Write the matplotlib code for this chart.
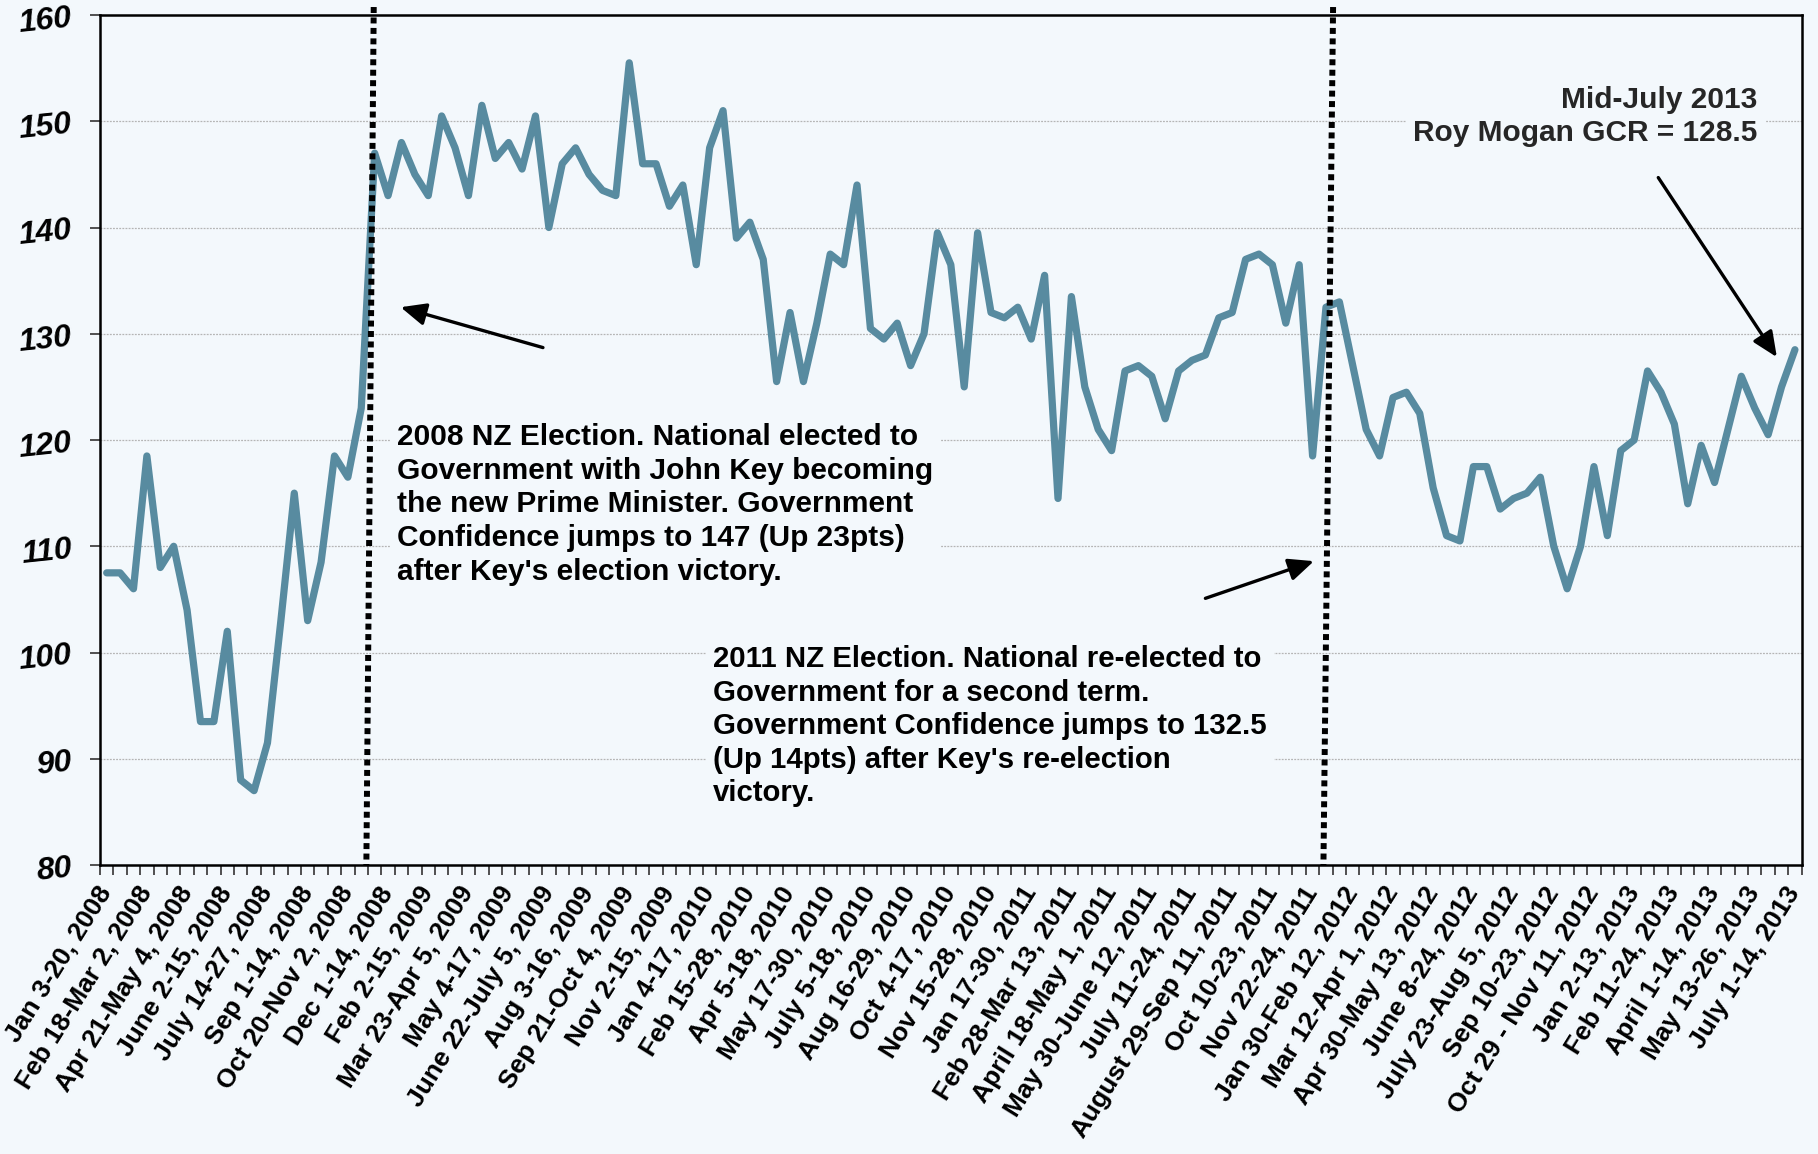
import matplotlib

matplotlib.use("Agg")
import matplotlib.pyplot as plt
import numpy as np
from matplotlib.patches import FancyArrowPatch

# Roy Morgan NZ Government Confidence Rating, fortnightly polls Jan 2008 - Jul 2013
GCR = [
    107.5, 107.5, 106, 118.5, 108, 110, 104, 93.5, 93.5, 102,
    88, 87, 91.5, 103, 115, 103, 108.5, 118.5, 116.5, 123,
    147, 143, 148, 145, 143, 150.5, 147.5, 143, 151.5, 146.5,
    148, 145.5, 150.5, 140, 146, 147.5, 145, 143.5, 143, 155.5,
    146, 146, 142, 144, 136.5, 147.5, 151, 139, 140.5, 137,
    125.5, 132, 125.5, 131, 137.5, 136.5, 144, 130.5, 129.5, 131,
    127, 130, 139.5, 136.5, 125, 139.5, 132, 131.5, 132.5, 129.5,
    135.5, 114.5, 133.5, 125, 121, 119, 126.5, 127, 126, 122,
    126.5, 127.5, 128, 131.5, 132, 137, 137.5, 136.5, 131, 136.5,
    118.5, 132.5, 133, 127, 121, 118.5, 124, 124.5, 122.5, 115.5,
    111, 110.5, 117.5, 117.5, 113.5, 114.5, 115, 116.5, 110, 106,
    110, 117.5, 111, 119, 120, 126.5, 124.5, 121.5, 114, 119.5,
    116, 121, 126, 123, 120.5, 125, 128.5,
]

# every third poll carries a label
TICK_LABELS = [
    "Jan 3-20, 2008", "Feb 18-Mar 2, 2008", "Apr 21-May 4, 2008", "June 2-15, 2008",
    "July 14-27, 2008", "Sep 1-14, 2008", "Oct 20-Nov 2, 2008", "Dec 1-14, 2008",
    "Feb 2-15, 2009", "Mar 23-Apr 5, 2009", "May 4-17, 2009", "June 22-July 5, 2009",
    "Aug 3-16, 2009", "Sep 21-Oct 4, 2009", "Nov 2-15, 2009", "Jan 4-17, 2010",
    "Feb 15-28, 2010", "Apr 5-18, 2010", "May 17-30, 2010", "July 5-18, 2010",
    "Aug 16-29, 2010", "Oct 4-17, 2010", "Nov 15-28, 2010", "Jan 17-30, 2011",
    "Feb 28-Mar 13, 2011", "April 18-May 1, 2011", "May 30-June 12, 2011",
    "July 11-24, 2011", "August 29-Sep 11, 2011", "Oct 10-23, 2011", "Nov 22-24, 2011",
    "Jan 30-Feb 12, 2012", "Mar 12-Apr 1, 2012", "Apr 30-May 13, 2012",
    "June 8-24, 2012", "July 23-Aug 5, 2012", "Sep 10-23, 2012",
    "Oct 29 - Nov 11, 2012", "Jan 2-13, 2013", "Feb 11-24, 2013", "April 1-14, 2013",
    "May 13-26, 2013", "July 1-14, 2013",
]
LABEL_STEP = 3

NOTE_2008 = ("2008 NZ Election. National elected to\n"
             "Government with John Key becoming\n"
             "the new Prime Minister. Government\n"
             "Confidence jumps to 147 (Up 23pts)\n"
             "after Key's election victory.")
NOTE_2011 = ("2011 NZ Election. National re-elected to\n"
             "Government for a second term.\n"
             "Government Confidence jumps to 132.5\n"
             "(Up 14pts) after Key's re-election\n"
             "victory.")
NOTE_2013 = "Mid-July 2013\nRoy Mogan GCR = 128.5"

BG = "#F3F8FC"
LINE_COLOR = "#588BA0"
FONT = "Liberation Sans"


def build_plot():
    plt.rcParams["font.family"] = [FONT, "DejaVu Sans"]
    fig = plt.figure(figsize=(18.18, 11.54), dpi=100, facecolor=BG)
    ax = fig.add_axes([0.055, 0.2504, 0.936, 0.7366], facecolor=BG)

    x = np.arange(len(GCR))
    ax.plot(x, GCR, color=LINE_COLOR, linewidth=5.2, solid_joinstyle="round",
            solid_capstyle="round", zorder=4)

    ax.set_xlim(-0.5, len(GCR) - 0.5)
    ax.set_ylim(80, 160)
    ax.set_yticks(np.arange(80, 161, 10))
    for lbl in ax.set_yticklabels([str(v) for v in range(80, 161, 10)]):
        lbl.set_fontweight("bold")
        lbl.set_fontstyle("italic")
        lbl.set_fontsize(23)
        lbl.set_rotation(6)
    ax.tick_params(axis="y", direction="out", length=7, width=1.2, color="#333333", pad=12)

    for yv in range(90, 160, 10):
        ax.axhline(yv, color="#B5B5B5", linewidth=0.9, linestyle=(0, (1.5, 1)), zorder=1)

    major = np.arange(0, len(GCR), LABEL_STEP)
    ax.set_xticks(major)
    ax.set_xticklabels(TICK_LABELS, rotation=58, ha="right", va="center",
                       rotation_mode="anchor", fontsize=19, fontweight="bold")
    ax.set_xticks(np.arange(-0.5, len(GCR), 1), minor=True)
    ax.tick_params(axis="x", which="major", length=0, pad=17)
    ax.tick_params(axis="x", which="minor", direction="out", length=7, width=1.2,
                   color="#333333")

    for side in ["left", "bottom", "top", "right"]:
        ax.spines[side].set_color("black")
        ax.spines[side].set_linewidth(1.8)

    # election markers, drawn slightly slanted as in the original
    for xs in ([19.93, 19.38], [91.53, 90.81]):
        ax.plot(xs, [160.75, 80], color="black", linewidth=4.3,
                linestyle=(0, (1, 0.75)), dash_capstyle="butt", clip_on=False, zorder=5)

    box = dict(boxstyle="square,pad=0.25", facecolor=BG, edgecolor="none")
    ax.text(21.7, 121.6, NOTE_2008, fontsize=21.5, fontweight="bold", color="black",
            ha="left", va="top", linespacing=1.26, bbox=box, zorder=3)
    ax.text(45.25, 100.7, NOTE_2011, fontsize=21.2, fontweight="bold", color="black",
            ha="left", va="top", linespacing=1.25, bbox=box, zorder=3)
    ax.text(123.2, 153.3, NOTE_2013, fontsize=21.5, fontweight="bold", color="#262626",
            ha="right", va="top", linespacing=1.2, bbox=box, zorder=3)

    arrows = [
        ((32.56, 128.7), (21.94, 132.5)),
        ((82.0, 105.1), (90.1, 108.6)),
        ((115.8, 144.7), (124.65, 127.8)),
    ]
    for tail, head in arrows:
        ax.add_patch(FancyArrowPatch(tail, head, arrowstyle="-|>,head_length=0.9,head_width=0.4",
                                     mutation_scale=17, color="black", linewidth=2.4,
                                     shrinkA=0, shrinkB=0, zorder=6))

    fig.savefig("out.png", dpi=100, facecolor=BG)
    plt.close(fig)


if __name__ == "__main__":
    build_plot()
